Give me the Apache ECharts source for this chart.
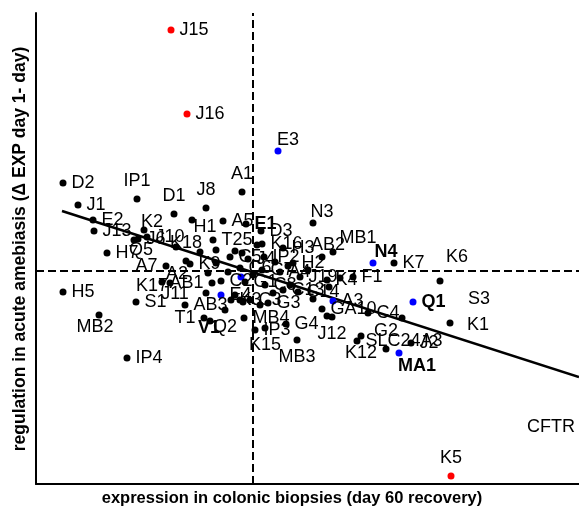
<!DOCTYPE html>
<html><head><meta charset="utf-8">
<script src="https://cdn.jsdelivr.net/npm/echarts@6/dist/echarts.min.js"></script>
<style>html,body{margin:0;padding:0;background:#fff}#c{width:579px;height:513px}</style>
</head><body><div id="c"></div>
<script>
// ---- data ----
const genes = ['J15','J16','K5','E3','N4','Q1','MA1','E4','A3','',
 'D2','IP1','D1','J8','A1','J1','E2','J13','K2','J6','J10','Q5','H7','A7','A2','K17','AB1','J11','H5','S1','MB2','IP4','AB3','T1','V1','Q2','C2','K3','C3',
 'H1','A5','E1','D3','K16','H3','IP2','H2','AB2','MB1','N3','K7','K6','F1','K4','J19','C13','C14','GA10','C4','J12','G4','IP3','MB4','K15','MB3','K12','SLC24A3','G2','J2','K1',
 'K18','K9','T25','C5','J4','C6','C7','A4','G1','C8','G3',
 '','','','','','','','','','','','','','','','','','','','','','','','',
 'S3','CFTR'];
const expr = [-0.82,-0.66,1.98,0.25,1.20,1.60,1.46,-0.32,0.80,-0.12,
 -1.90,-1.16,-0.79,-0.47,-0.11,-1.75,-1.60,-1.59,-1.09,-1.15,-1.06,-1.19,-1.46,-0.87,-0.83,-0.91,-0.41,-0.47,-1.90,-1.17,-1.54,-1.26,-0.68,-0.49,-0.43,-0.28,-0.32,-0.22,-0.03,
 -0.61,-0.30,-0.07,0.08,0.09,0.30,0.11,0.40,0.69,0.80,0.60,1.41,1.87,1.00,0.74,0.47,0.30,0.45,0.69,1.15,0.79,0.33,0.02,-0.09,0.12,0.44,1.08,1.04,1.33,1.58,1.97,
 -0.67,-0.63,-0.40,-0.23,-0.05,-0.13,0.09,0.27,-0.08,0.12,0.15,
 1.49,-0.18,-0.13,-0.10,0.07,-0.37,-0.18,-0.11,0.04,-0.37,0.74,0.87,0.76,0.55,0.37,0.22,0.00,-0.25,-0.53,-0.77,0.20,0.60,-0.45,0.35,
 2.26,2.98];
const regul = [2.41,1.57,-2.05,1.20,0.08,-0.31,-0.82,-0.24,-0.30,-0.06,
 0.88,0.72,0.57,0.63,0.79,0.66,0.51,0.40,0.41,0.32,0.34,0.31,0.18,0.05,-0.12,-0.11,-0.12,-0.22,-0.21,-0.31,-0.44,-0.87,-0.34,-0.47,-0.50,-0.39,-0.10,-0.29,-0.29,
 0.51,0.50,0.47,0.40,0.27,0.23,0.14,0.08,0.14,0.19,0.48,0.08,-0.10,-0.06,-0.09,-0.06,-0.19,-0.21,-0.38,-0.42,-0.46,-0.53,-0.59,-0.47,-0.57,-0.69,-0.65,-0.70,-0.78,-0.72,-0.52,
 0.10,0.07,0.31,0.14,0.12,0.03,0.01,-0.01,-0.11,-0.14,-0.32,
 -0.47,-0.24,-0.29,-0.31,-0.34,0.21,0.20,0.18,0.26,0.08,-0.45,-0.07,-0.16,0.01,-0.14,0.09,-0.04,-0.01,0.19,0.24,-0.22,-0.28,-0.02,0.05,
 -0.28,-1.56];
const groupOf = (i) => i < 3 ? 'outlier' : i < 10 ? 'highlight' : i >= genes.length - 2 ? 'labelOnly' : 'other';
const fitLine = [[-1.91, 0.60], [3.26, -1.06]];
const xTitle = 'expression in colonic biopsies (day 60 recovery)';
const yTitle = 'regulation in acute amebiasis (\u0394 EXP day 1- day)';

// ---- styling ----
const colorOf = {other:'#000000', highlight:'#0000ff', outlier:'#ff0000', labelOnly:'#000000'};
const boldLabels = ['N4','Q1','MA1','V1','E1'];
const labelPlace = {
  IP1:'top', D1:'top', J8:'top', A1:'top', K18:'top', G2:'top', K5:'top',
  Q2:'bottom', J12:'bottom', K15:'bottom', MB3:'bottom', K12:'bottom',
  A7:'left', AB1:'left', T1:'left',
  E3:[10,-11], K2:[8,-8], Q5:[7,10], A2:[7,-9], K17:[-10,4], J11:[-31,1], V1:[-1,7],
  AB2:[6,-12], MB1:[25,-14], N3:[9,-11], N4:[13,-11], K6:[17,-24], MA1:[18,13], MB2:[-4,12],
  K1:[28,2], H1:[13,7],
  S3:[0,0], CFTR:[0,0]
};
const FONT = '"Liberation Sans", Arial, Helvetica, sans-serif';
const DOT = 7;

const data = genes.map((g, i) => {
  const grp = groupOf(i);
  const size = grp === 'labelOnly' ? 0.01 : DOT;
  const place = labelPlace[g] || 'right';
  const label = {show: g !== '', formatter:'{b}', color:'#000', fontSize:18, fontFamily:FONT,
    fontWeight: boldLabels.includes(g) ? 'bold' : 'normal', textBorderWidth:0};
  if (Array.isArray(place)) {
    label.position = [size / 2 + place[0], size / 2 + place[1]];
    label.align = 'center'; label.verticalAlign = 'middle';
  } else { label.position = place; label.distance = 5; }
  return {name:g, value:[expr[i], regul[i]], symbolSize:size,
    itemStyle:{color:colorOf[grp], opacity:1}, label};
});

const chart = echarts.init(document.getElementById('c'), null, {renderer:'canvas'});
const axisCommon = {
  type:'value', axisTick:{show:false}, axisLabel:{show:false}, splitLine:{show:false},
  axisLine:{show:true, onZero:false, lineStyle:{color:'#000', width:2}}
};
chart.setOption({
  animation:false,
  backgroundColor:'#fff',
  grid:{left:36, right:0, top:13, bottom:29, containLabel:false},
  xAxis: Object.assign({}, axisCommon, {min:-2.17, max:3.26}),
  yAxis: Object.assign({}, axisCommon, {min:-2.13, max:2.58}),
  graphic:[
    {type:'text', x:292, y:498, silent:true,
     style:{text:xTitle, fill:'#000', font:'bold 16.5px ' + FONT, align:'center', verticalAlign:'middle'}},
    {type:'text', x:20, y:249, rotation:Math.PI/2, silent:true,
     style:{text:yTitle, fill:'#000', font:'bold 17.5px ' + FONT, align:'center', verticalAlign:'middle'}}
  ],
  series:[
    {type:'line', data:fitLine, symbol:'none', z:1,
     lineStyle:{color:'#000', width:2.5}, silent:true},
    {type:'scatter', data:data, z:3, labelLayout:{hideOverlap:false},
     markLine:{silent:true, symbol:'none', label:{show:false},
       lineStyle:{color:'#000', width:2, type:[8,4]},
       data:[{xAxis:0},{yAxis:0}]}}
  ]
});
</script>
</body></html>
